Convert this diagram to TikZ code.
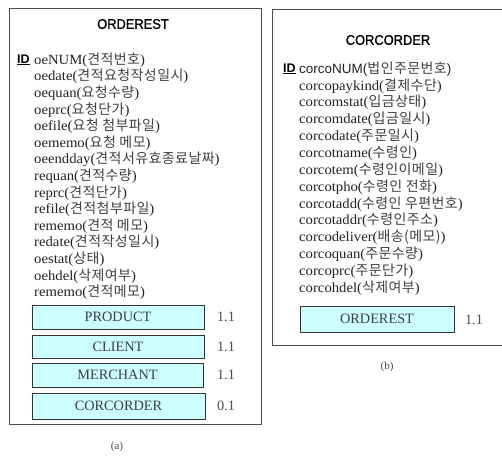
\documentclass[tikz,border=0pt]{standalone}
\usepackage{fontspec}
\setmainfont{Liberation Serif}
\setsansfont{Liberation Sans}
\newfontfamily\kofont[LetterSpace=3]{Noto Sans CJK KR}
\newfontfamily\attrfont[FakeStretch=1.05]{Liberation Serif}
\newfontfamily\titlefont[FakeBold=1.2, FakeStretch=0.92]{Liberation Sans}
\newcommand\ko[1]{{\kofont\fontsize{14}{16}\selectfont\color{black!75}#1}}
\definecolor{relfill}{HTML}{CCFFFF}
\definecolor{inkgray}{HTML}{222222}

\tikzset{
  entity/.style={draw=black!70, line width=0.9pt},
  title/.style={font=\titlefont\fontsize{14}{16}\selectfont, text=black},
  idmark/.style={anchor=west, inner sep=0pt, font=\sffamily\bfseries\fontsize{12.5}{14}\selectfont},
  attr/.style={anchor=west, inner sep=0pt, text=inkgray, font=\attrfont\fontsize{14}{16}\selectfont},
  attrsans/.style={anchor=west, inner sep=0pt, text=inkgray, font=\sffamily\fontsize{13.5}{16}\selectfont},
  relbox/.style={draw=black!80, line width=0.7pt, fill=relfill, inner sep=0pt,
    text=black!75, font=\fontsize{14.3}{16}\selectfont},
  card/.style={text=black!70, font=\fontsize{14.3}{16}\selectfont},
  caption/.style={text=black!70, font=\fontsize{11}{13}\selectfont}
}

\begin{document}
\begin{tikzpicture}[x=1pt, y=-1pt]
\useasboundingbox (0,0) rectangle (502,457);
\fill[white] (0,0) rectangle (502,457);

% ---- entity ORDEREST ----
\draw[entity] (9,8) rectangle (261,424);
\node[title] (ttlA) at (133,24) {ORDEREST};
\node[idmark] (idA) at (17,60) {\underline{ID}};
\foreach \i/\t in {
  0/{oeNUM(\ko{견적번호})},
  1/{oedate(\ko{견적요청작성일시})},
  2/{oequan(\ko{요청수량})},
  3/{oeprc(\ko{요청단가})},
  4/{oefile(\ko{요청 첨부파일})},
  5/{oememo(\ko{요청 메모})},
  6/{oeendday(\ko{견적서유효종료날짜})},
  7/{requan(\ko{견적수량})},
  8/{reprc(\ko{견적단가})},
  9/{refile(\ko{견적첨부파일})},
  10/{rememo(\ko{견적 메모})},
  11/{redate(\ko{견적작성일시})},
  12/{oestat(\ko{상태})},
  13/{oehdel(\ko{삭제여부})},
  14/{rememo(\ko{견적메모})}}
  \node[attr] (attrA\i) at (34,60+16.6*\i) {\t};

\node[relbox, minimum width=172pt, minimum height=24pt] (prod) at (118,317) {PRODUCT};
\node[relbox, minimum width=172pt, minimum height=23pt] (cli) at (118,346.5) {CLIENT};
\node[relbox, minimum width=171pt, minimum height=24pt] (mer) at (117.5,375) {MERCHANT};
\node[relbox, minimum width=173pt, minimum height=26pt] (corA) at (118.5,406) {CORCORDER};
\node[card] (cProd) at (226,317) {1.1};
\node[card] (cCli) at (226,346.5) {1.1};
\node[card] (cMer) at (226,375) {1.1};
\node[card] (cCor) at (226,406) {0.1};
\node[caption] (capA) at (117,447) {(a)};

% ---- entity CORCORDER ----
\draw[entity] (272,9) rectangle (506,345);
\node[title] (ttlB) at (388,40) {CORCORDER};
\node[idmark] (idB) at (283,69) {\underline{ID}};
\node[attrsans] (attrB0) at (299,69) {corcoNUM(\ko{법인주문번호})};
\foreach \i/\t in {
  1/{corcopaykind(\ko{결제수단})},
  2/{corcomstat(\ko{입금상태})},
  3/{corcomdate(\ko{입금일시})},
  4/{corcodate(\ko{주문일시})},
  5/{corcotname(\ko{수령인})},
  6/{corcotem(\ko{수령인이메일})},
  7/{corcotpho(\ko{수령인 전화})},
  8/{corcotadd(\ko{수령인 우편번호})},
  9/{corcotaddr(\ko{수령인주소})},
  10/{corcodeliver(\ko{배송(메모)})},
  11/{corcoquan(\ko{주문수량})},
  12/{corcoprc(\ko{주문단가})},
  13/{corcohdel(\ko{삭제여부})}}
  \node[attr] (attrB\i) at (299,69+16.85*\i) {\t};

\node[relbox, minimum width=154pt, minimum height=26pt] (ordB) at (377,319) {ORDEREST};
\node[card] (cOrd) at (474,320) {1.1};
\node[caption] (capB) at (387,367) {(b)};
\end{tikzpicture}
\end{document}
